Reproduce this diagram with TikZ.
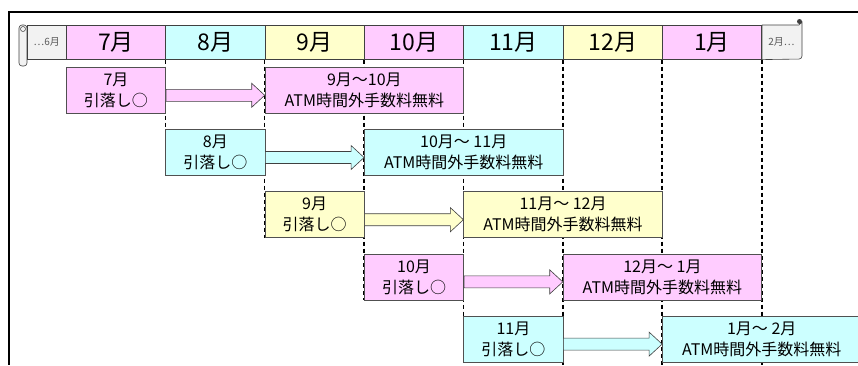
\documentclass[tikz,border=0pt]{standalone}
\usepackage{fontspec}
\setmainfont{Noto Sans CJK JP}
\usetikzlibrary{calc,backgrounds}

\definecolor{monpink}{HTML}{FFCCFF}
\definecolor{moncyan}{HTML}{CCFFFF}
\definecolor{monyellow}{HTML}{FFFFCC}
\definecolor{endgray}{HTML}{F2F2F2}
\definecolor{hline}{HTML}{404040}
\definecolor{boxline}{HTML}{505050}

% fat arrow from one box to the next: from, to, fill colour
\newcommand{\fatarrow}[3]{%
  \path let \p1=(#1.east), \p2=(#2.west) in
    [draw=hline, fill=#3, line width=0.6pt]
    (\x1,\y1+1pt) -- (\x2-13pt,\y1+1pt) -- (\x2-13pt,\y1+7pt) -- (\x2,\y1-5pt)
    -- (\x2-13pt,\y1-17pt) -- (\x2-13pt,\y1-11pt) -- (\x1,\y1-11pt) -- cycle;}

\begin{document}
\begin{tikzpicture}[x=1pt,y=-1pt,
    hcell/.style={draw=hline, line width=0.6pt, minimum width=99.35pt, minimum height=34pt,
      inner sep=0pt, anchor=north west, font=\fontsize{23}{26}\selectfont},
    endcell/.style={draw=hline, line width=0.6pt, fill=endgray, minimum width=39pt,
      minimum height=34pt, inner sep=0pt, anchor=north west, text=gray!70!black,
      font=\fontsize{10}{12}\selectfont},
    paybox/.style={draw=boxline, line width=0.6pt, minimum width=99.35pt, minimum height=46pt,
      inner sep=0pt, anchor=north west, align=center, font=\fontsize{16}{21}\selectfont},
    freebox/.style={paybox, minimum width=198.7pt},
    colline/.style={dashed, dash pattern=on 4pt off 3pt, line width=1.5pt}]
    \useasboundingbox (0,0) rectangle (858,365);

    % frame
    \draw[line width=1.6pt] (858,12) -- (9,12) -- (9,365);

    % month header
    \draw[draw=hline, line width=0.6pt, fill=endgray, rounded corners=3pt] (19,25) rectangle (27,66);
    \draw[draw=hline, line width=0.5pt] (23,29) ellipse (2.5pt and 2.5pt);
    \node[endcell] (hl) at (27,25) {…6月};
    \foreach \m/\c [count=\i from 0] in {7月/monpink, 8月/moncyan, 9月/monyellow,
        10月/monpink, 11月/moncyan, 12月/monyellow, 1月/monpink}
      \node[hcell, fill=\c] (h\i) at ({66+99.35*\i},25) {\m};
    \path[draw=hline, line width=0.6pt, fill=endgray]
      (h6.north east) -- (799,25) -- (802,22) -- (802,56) [rounded corners=3pt] -- (802,59)
      [sharp corners] -- (h6.south east) -- cycle;
    \node[text=gray!70!black, font=\fontsize{10}{12}\selectfont] (hr) at (781.5,42) {2月…};
    \fill[hline] (799.5,21.5) circle (2.5pt);

    % withdrawal month and free period
    \foreach \r/\m/\f/\c in {0/7月/9月～10月/monpink, 1/8月/10月～ 11月/moncyan,
        2/9月/11月～ 12月/monyellow, 3/10月/12月～ 1月/monpink, 4/11月/1月～ 2月/moncyan} {
      \node[paybox, fill=\c] (pay\r) at ({66+99.35*\r},{67+62.2*\r}) {\m\\引落し○};
      \node[freebox, fill=\c] (free\r) at ({66+99.35*(\r+2)},{67+62.2*\r}) {\f\\ATM時間外手数料無料};
      \fatarrow{pay\r}{free\r}{\c}
    }

    % month borders
    \begin{scope}[on background layer]
    \foreach \k in {1,...,4}
      \draw[colline] (h\k.south west) -- (pay\k.south west);
    \foreach \k in {5,6}
      \draw[colline] (h\k.south west) -- (h\k.south west |- 0,365);
    \draw[colline] (h6.south east) -- (h6.south east |- 0,365);
    \end{scope}
\end{tikzpicture}
\end{document}
